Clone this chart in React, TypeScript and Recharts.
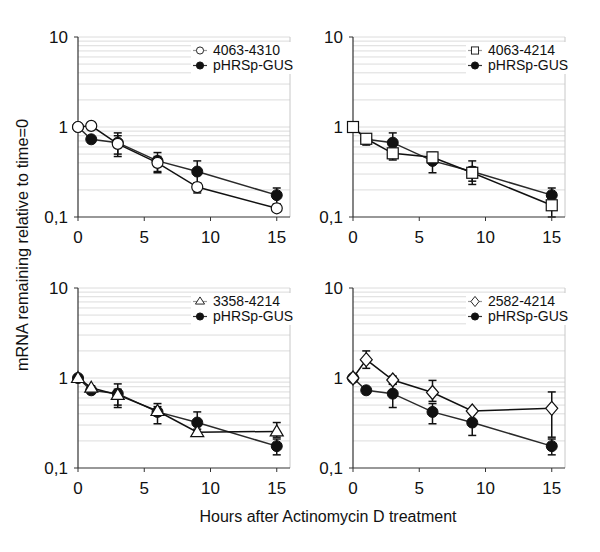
import React from "react";
import {
  LineChart,
  Line,
  XAxis,
  YAxis,
  ReferenceLine,
  ErrorBar,
} from "recharts";

const hours = [0, 1, 3, 6, 9, 15];
const xTicks = [0, 5, 10, 15];
const yTicks = [0.1, 1, 10];
const gridValues = [0.2, 0.3, 0.4, 0.5, 0.6, 0.7, 0.8, 0.9, 1, 2, 3, 4, 5, 6, 7, 8, 9, 10];

// pHRSp-GUS control, same in every panel
const gusMean = [1, 0.73, 0.67, 0.42, 0.32, 0.175];
const gusLow = [1, 0.68, 0.47, 0.31, 0.23, 0.14];
const gusHigh = [1, 0.78, 0.86, 0.52, 0.42, 0.21];

const c4310Mean = [1, 1.03, 0.65, 0.4, 0.215, 0.125];
const c4310Low = [1, 1.0, 0.5, 0.32, 0.185, 0.115];
const c4310High = [1, 1.06, 0.8, 0.47, 0.24, 0.135];

const c4214Mean = [1, 0.74, 0.51, 0.46, 0.31, 0.135];
const c4214Low = [1, 0.63, 0.43, 0.4, 0.25, 0.1];
const c4214High = [1, 0.8, 0.58, 0.52, 0.36, 0.17];

const c3358Mean = [1, 0.78, 0.65, 0.43, 0.25, 0.255];
const c3358Low = [1, 0.74, 0.5, 0.38, 0.23, 0.22];
const c3358High = [1, 0.82, 0.75, 0.48, 0.27, 0.32];

const c2582Mean = [1, 1.6, 0.95, 0.69, 0.43, 0.46];
const c2582Low = [1, 1.28, 0.85, 0.55, 0.41, 0.22];
const c2582High = [1, 2.0, 1.05, 0.94, 0.45, 0.7];

const FONT = "'Liberation Sans', Arial, sans-serif";

type Shape = "circle" | "square" | "triangle" | "diamond" | "dot";

function drawMarker(shape: Shape, cx: number, cy: number, key?: string, size = 1) {
  const stroke = "#111";
  const r = 5.5 * size;
  const sw = size < 1 ? 0.9 : 1.2;
  if (shape === "dot")
    return <circle key={key} cx={cx} cy={cy} r={r} fill="#111" stroke="#111" />;
  if (shape === "circle")
    return <circle key={key} cx={cx} cy={cy} r={r} fill="#fff" stroke={stroke} strokeWidth={sw} />;
  if (shape === "square")
    return <rect key={key} x={cx - r} y={cy - r} width={2 * r} height={2 * r} fill="#fff" stroke={stroke} strokeWidth={sw} />;
  if (shape === "triangle")
    return (
      <polygon
        key={key}
        points={`${cx},${cy - r - 1} ${cx + r + 1},${cy + r - 1} ${cx - r - 1},${cy + r - 1}`}
        fill="#fff"
        stroke={stroke}
        strokeWidth={sw}
      />
    );
  return (
    <polygon
      key={key}
      points={`${cx},${cy - r - 1.5} ${cx + r + 0.5},${cy} ${cx},${cy + r + 1.5} ${cx - r - 0.5},${cy}`}
      fill="#fff"
      stroke={stroke}
      strokeWidth={sw}
    />
  );
}

function LegendBox({ name, shape }: { name: string; shape: Shape }) {
  const row = (label: string, s: Shape, color: string) => (
    <div style={{ display: "flex", alignItems: "center", height: 15 }}>
      <svg width={18} height={15}>
        <line x1={1} y1={7.5} x2={15} y2={7.5} stroke={color} strokeWidth={1.2} />
        {drawMarker(s, 8, 7.5, undefined, 0.65)}
      </svg>
      <span style={{ marginLeft: 3 }}>{label}</span>
    </div>
  );
  return (
    <div
      style={{
        background: "#fff",
        fontFamily: FONT,
        fontSize: 14,
        color: "#111",
        padding: "1px 3px 1px 1px",
        lineHeight: "15px",
      }}
    >
      {row(name, shape, "#999")}
      {row("pHRSp-GUS", "dot", "#333")}
    </div>
  );
}

interface PanelProps {
  left: number;
  top: number;
  name: string;
  shape: Shape;
  mean: number[];
  low: number[];
  high: number[];
}

function Panel({ left, top, name, shape, mean, low, high }: PanelProps) {
  const data = hours.map((h, i) => ({
    h,
    construct: mean[i],
    constructErr: [mean[i] - low[i], high[i] - mean[i]],
    gus: gusMean[i],
    gusErr: [gusMean[i] - gusLow[i], gusHigh[i] - gusMean[i]],
  }));

  return (
    <div style={{ position: "absolute", left, top, width: 300, height: 280 }}>
      <LineChart
        width={300}
        height={280}
        data={data}
        margin={{ top: 37, right: 10, left: 0, bottom: 30 }}
      >
        {gridValues.map((v) => (
          <ReferenceLine key={v} y={v} stroke="#dcdcdc" strokeWidth={1} />
        ))}
        <ReferenceLine x={16} stroke="#c8c8c8" />
        <XAxis
          dataKey="h"
          type="number"
          domain={[0, 16]}
          ticks={xTicks}
          tick={{ fontSize: 17, fill: "#111", fontFamily: FONT }}
          tickLine={{ stroke: "#333" }}
          tickSize={4}
          tickMargin={10}
          axisLine={{ stroke: "#333", strokeWidth: 1.2 }}
          height={33}
        />
        <YAxis
          scale="log"
          domain={[0.1, 10]}
          ticks={yTicks}
          allowDataOverflow
          width={78}
          tickFormatter={(v: number) => String(v).replace(".", ",")}
          tick={{ fontSize: 17, fill: "#111", fontFamily: FONT }}
          tickLine={{ stroke: "#333" }}
          tickSize={4}
          tickMargin={6}
          axisLine={{ stroke: "#333", strokeWidth: 1.2 }}
        />
        <Line
          dataKey="gus"
          stroke="#2a2a2a"
          strokeWidth={1.5}
          isAnimationActive={false}
          dot={(p: any) => drawMarker("dot", p.cx, p.cy, `g${p.index}`)}
        >
          <ErrorBar dataKey="gusErr" stroke="#111" strokeWidth={1.5} width={4} />
        </Line>
        <Line
          dataKey="construct"
          stroke="#111"
          strokeWidth={1.5}
          isAnimationActive={false}
          dot={(p: any) => drawMarker(shape, p.cx, p.cy, `c${p.index}`)}
        >
          <ErrorBar dataKey="constructErr" stroke="#111" strokeWidth={1.5} width={4} />
        </Line>
      </LineChart>
      <div style={{ position: "absolute", left: 191, top: 42 }}>
        <LegendBox name={name} shape={shape} />
      </div>
    </div>
  );
}

export default function App() {
  return (
    <div
      style={{
        position: "absolute",
        left: 0,
        top: 0,
        width: 600,
        height: 552,
        background: "#fff",
        fontFamily: FONT,
      }}
    >
      <Panel left={0} top={0} name="4063-4310" shape="circle" mean={c4310Mean} low={c4310Low} high={c4310High} />
      <Panel left={275} top={0} name="4063-4214" shape="square" mean={c4214Mean} low={c4214Low} high={c4214High} />
      <Panel left={0} top={251} name="3358-4214" shape="triangle" mean={c3358Mean} low={c3358Low} high={c3358High} />
      <Panel left={275} top={251} name="2582-4214" shape="diamond" mean={c2582Mean} low={c2582Low} high={c2582High} />
      <div
        style={{
          position: "absolute",
          left: 22,
          top: 245,
          transform: "translate(-50%, -50%) rotate(-90deg)",
          whiteSpace: "nowrap",
          fontSize: 16.3,
          color: "#111",
        }}
      >
        mRNA remaining relative to time=0
      </div>
      <div
        style={{
          position: "absolute",
          left: 328,
          top: 517,
          transform: "translate(-50%, -50%)",
          whiteSpace: "nowrap",
          fontSize: 16,
          color: "#111",
        }}
      >
        Hours after Actinomycin D treatment
      </div>
    </div>
  );
}
